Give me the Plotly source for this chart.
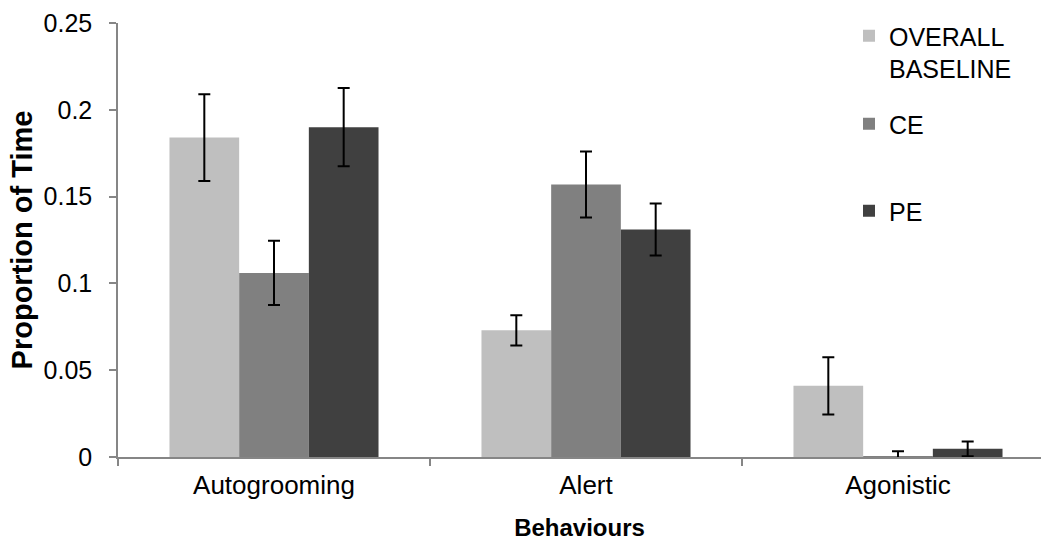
import plotly.graph_objects as go

# Behaviour categories and the mean proportion of time (with error) per condition
categories = ["Autogrooming", "Alert", "Agonistic"]

baseline = [0.184, 0.073, 0.041]
baseline_err = [0.025, 0.0087, 0.0165]

ce = [0.106, 0.157, 0.0003]
ce_err = [0.0185, 0.019, 0.003]

pe = [0.190, 0.131, 0.0047]
pe_err = [0.0225, 0.015, 0.0042]

series_names = ["OVERALL<br>BASELINE", "CE", "PE"]
series_colors = ["#BFBFBF", "#808080", "#404040"]
y_ticks = [0, 0.05, 0.1, 0.15, 0.2, 0.25]
y_tick_text = ["0", "0.05", "0.1", "0.15", "0.2", "0.25"]

FONT = "Arial, 'Liberation Sans', sans-serif"
AXIS_GREY = "#868686"

W, H = 1041, 541
M_L, M_R, M_T, M_B = 118, 0, 23, 84
CAT_PX = 312  # horizontal space taken by one category group

fig = go.Figure()

legend_ids = ["legend", "legend2", "legend3"]
for name, vals, errs, color, lg in zip(
    series_names, [baseline, ce, pe], [baseline_err, ce_err, pe_err],
    series_colors, legend_ids
):
    fig.add_trace(go.Bar(
        x=categories,
        y=vals,
        name=name,
        marker=dict(color=color, line=dict(width=0)),
        error_y=dict(type="data", array=errs, visible=True,
                     color="black", thickness=2, width=6),
        legend=lg,
    ))

plot_w = W - M_L - M_R
x_end = -0.5 + plot_w / CAT_PX

legend_common = dict(
    xref="container", yref="container",
    xanchor="left", yanchor="top",
    bgcolor="rgba(0,0,0,0)",
    font=dict(family=FONT, size=25, color="black"),
    valign="top",
)

fig.update_layout(
    width=W, height=H,
    margin=dict(l=M_L, r=M_R, t=M_T, b=M_B, pad=0, autoexpand=False),
    paper_bgcolor="white",
    plot_bgcolor="white",
    barmode="group",
    bargap=0.33,
    bargroupgap=0,
    font=dict(family=FONT, color="black"),
    showlegend=True,
    legend=dict(x=849 / W, y=1 - 13 / H, **legend_common),
    legend2=dict(x=849 / W, y=1 - 101 / H, **legend_common),
    legend3=dict(x=849 / W, y=1 - 188 / H, **legend_common),
    xaxis=dict(
        type="category",
        range=[-0.5, x_end],
        showline=True, linecolor=AXIS_GREY, linewidth=1.5,
        ticks="outside", tickson="boundaries", ticklen=7,
        tickcolor=AXIS_GREY, tickwidth=1.5,
        tickfont=dict(family=FONT, size=26, color="black"),
        ticklabelstandoff=4,
        showgrid=False, zeroline=False,
        title=dict(text="<b>Behaviours</b>",
                   font=dict(family=FONT, size=24, color="black"),
                   standoff=20),
        automargin=False,
    ),
    yaxis=dict(
        range=[0, 0.25],
        tickvals=y_ticks, ticktext=y_tick_text,
        showline=True, linecolor=AXIS_GREY, linewidth=1.5,
        ticks="outside", ticklen=7, tickcolor=AXIS_GREY, tickwidth=1.5,
        tickfont=dict(family=FONT, size=25, color="black"),
        ticklabelstandoff=12,
        showgrid=False, zeroline=False,
        title=dict(text="<b>Proportion of Time</b>",
                   font=dict(family=FONT, size=29, color="black"),
                   standoff=2),
        automargin=False,
    ),
)

fig.write_html("out.html")
